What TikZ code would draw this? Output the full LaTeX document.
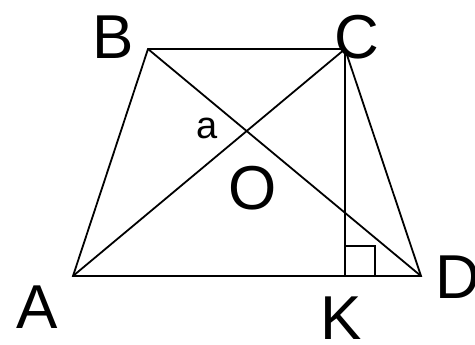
\documentclass[tikz,border=0pt]{standalone}
\usepackage{fontspec}
\setmainfont{Liberation Sans}
\usetikzlibrary{calc}

\begin{document}
\begin{tikzpicture}[x=1pt,y=-1pt,line width=1.8pt]
\tikzset{vlabel/.style={font=\fontsize{62}{62}\selectfont,inner sep=0pt},
 alabel/.style={font=\fontsize{38}{38}\selectfont,inner sep=0pt}}
\useasboundingbox (0,0) rectangle (475,345);
% trapezoid vertices
\coordinate (A) at (73,276);
\coordinate (B) at (148,49);
\coordinate (C) at (345,49);
\coordinate (D) at (421,276);
\coordinate (K) at (345,276);
\draw (A) -- (B) -- (C) -- (D) -- cycle;
\draw (A) -- (C) (B) -- (D);
\draw (C) -- (K);
\draw (K) rectangle ($(K)+(30,-30)$);
% labels
\foreach \n/\x/\y in {B/113/37,C/357/37,A/37/307,D/458/277,K/341/318,O/253/188} {
 \node[vlabel] (l\n) at (\x,\y) {\n};}
\node[alabel] (la) at (207,128) {a};
\end{tikzpicture}
\end{document}
